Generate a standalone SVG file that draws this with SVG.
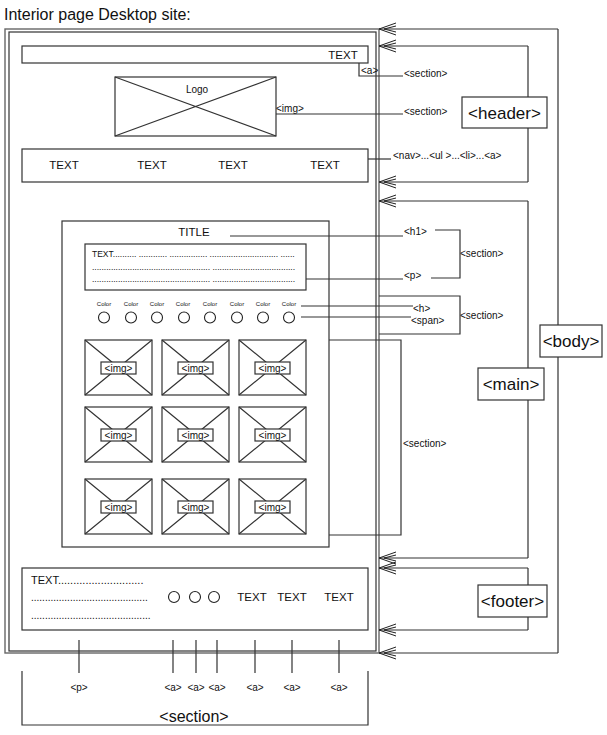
<svg xmlns="http://www.w3.org/2000/svg" width="607" height="735" viewBox="0 0 607 735">
  <defs>
    <style>
      text { font-family: "Liberation Sans", Arial, sans-serif; fill: #111; }
      .box { fill: #fff; stroke: #333; stroke-width: 1.2; }
      .ln { fill: none; stroke: #333; stroke-width: 1.2; }
      .frame { fill: none; stroke: #666; stroke-width: 1.4; }
      .lbl { font-size: 10px; }
      .sm { font-size: 6px; }
      .big { font-size: 17px; }
      .txt { font-size: 11.5px; }
      .circ { fill: none; stroke: #222; stroke-width: 1.1; }
    </style>
    <marker id="chev" markerWidth="20" markerHeight="14" refX="18" refY="7" orient="auto" markerUnits="userSpaceOnUse">
      <path d="M1,1 L18,7 L1,13 M1,4 L13,7 L1,10" fill="none" stroke="#222" stroke-width="1"/>
    </marker>
    <g id="ph">
      <rect x="0" y="0" width="67" height="55" class="box"/>
      <path d="M0,0 L67,55 M67,0 L0,55" class="ln"/>
      <rect x="16" y="22" width="35" height="12" class="box"/>
      <text x="33.5" y="31.5" text-anchor="middle" class="lbl">&lt;img&gt;</text>
    </g>
  </defs>
  <rect width="607" height="735" fill="#fff"/>

  <text x="4" y="20" font-size="16">Interior page Desktop site:</text>

  <!-- page frame -->
  <g id="page">
    <rect x="5" y="29" width="374" height="624" class="frame"/>
    <rect x="9" y="32" width="367" height="619" class="ln"/>
  </g>

  <!-- header -->
  <g id="topbar">
    <rect x="22" y="46" width="346" height="17" class="box"/>
    <text x="343" y="59" text-anchor="middle" class="txt">TEXT</text>
  </g>
  <g id="logo">
    <rect x="115" y="77" width="161" height="59" class="box"/>
    <path d="M115,77 L276,136 M276,77 L115,136" class="ln"/>
    <text x="197" y="93" text-anchor="middle" class="lbl">Logo</text>
  </g>
  <g id="nav">
    <rect x="22" y="149" width="346" height="33" class="box"/>
    <text x="64" y="169" text-anchor="middle" class="txt">TEXT</text>
    <text x="152" y="169" text-anchor="middle" class="txt">TEXT</text>
    <text x="233" y="169" text-anchor="middle" class="txt">TEXT</text>
    <text x="325" y="169" text-anchor="middle" class="txt">TEXT</text>
  </g>

  <!-- main content section -->
  <g id="content">
    <rect x="62" y="221" width="267" height="326" class="box"/>
    <text x="194" y="236" text-anchor="middle" class="txt">TITLE</text>
    <rect x="85" y="244" width="221" height="46" class="box"/>
    <text x="92" y="257" font-size="8.5">TEXT.......... ............ ................ ............................. ......</text>
    <text x="92" y="270" font-size="8.5">.................................................. ...................................</text>
    <text x="92" y="282" font-size="8.5">.................................................. ...................................</text>
    <g id="colors">
      <text x="104" y="306" text-anchor="middle" class="sm">Color</text>
      <text x="131" y="306" text-anchor="middle" class="sm">Color</text>
      <text x="157" y="306" text-anchor="middle" class="sm">Color</text>
      <text x="183" y="306" text-anchor="middle" class="sm">Color</text>
      <text x="210" y="306" text-anchor="middle" class="sm">Color</text>
      <text x="237" y="306" text-anchor="middle" class="sm">Color</text>
      <text x="263" y="306" text-anchor="middle" class="sm">Color</text>
      <text x="289" y="306" text-anchor="middle" class="sm">Color</text>
      <circle cx="104" cy="317.5" r="5.5" class="circ"/>
      <circle cx="131" cy="317.5" r="5.5" class="circ"/>
      <circle cx="157" cy="317.5" r="5.5" class="circ"/>
      <circle cx="184" cy="317.5" r="5.5" class="circ"/>
      <circle cx="210" cy="317.5" r="5.5" class="circ"/>
      <circle cx="237" cy="317.5" r="5.5" class="circ"/>
      <circle cx="263" cy="317.5" r="5.5" class="circ"/>
      <circle cx="289" cy="317.5" r="5.5" class="circ"/>
    </g>
    <g id="gallery">
      <use href="#ph" x="85" y="340"/>
      <use href="#ph" x="162" y="340"/>
      <use href="#ph" x="239" y="340"/>
      <use href="#ph" x="85" y="407"/>
      <use href="#ph" x="162" y="407"/>
      <use href="#ph" x="239" y="407"/>
      <use href="#ph" x="85" y="479"/>
      <use href="#ph" x="162" y="479"/>
      <use href="#ph" x="239" y="479"/>
    </g>
  </g>

  <!-- footer -->
  <g id="footer-box">
    <rect x="22" y="568" width="346" height="62" class="box"/>
    <text x="31" y="584" font-size="11">TEXT............................</text>
    <text x="31" y="601" font-size="10">..........................................</text>
    <text x="31" y="619" font-size="10">...........................................</text>
    <circle cx="174" cy="597" r="5.5" class="circ"/>
    <circle cx="195" cy="597" r="5.5" class="circ"/>
    <circle cx="214" cy="597" r="5.5" class="circ"/>
    <text x="252" y="601" text-anchor="middle" class="txt">TEXT</text>
    <text x="292" y="601" text-anchor="middle" class="txt">TEXT</text>
    <text x="339" y="601" text-anchor="middle" class="txt">TEXT</text>
  </g>

  <!-- element labels -->
  <g id="tag-labels">
    <text x="361" y="74" class="lbl">&lt;a&gt;</text>
    <text x="404" y="77" class="lbl">&lt;section&gt;</text>
    <text x="276" y="112" class="lbl">&lt;img&gt;</text>
    <text x="404" y="115" class="lbl">&lt;section&gt;</text>
    <text x="393" y="159" class="lbl">&lt;nav&gt;...&lt;ul &gt;...&lt;li&gt;...&lt;a&gt;</text>
    <text x="404" y="235" class="lbl">&lt;h1&gt;</text>
    <text x="404" y="279" class="lbl">&lt;p&gt;</text>
    <text x="460" y="257" class="lbl">&lt;section&gt;</text>
    <text x="413" y="312" class="lbl">&lt;h&gt;</text>
    <text x="411" y="324" class="lbl">&lt;span&gt;</text>
    <text x="460" y="319" class="lbl">&lt;section&gt;</text>
    <text x="403" y="447" class="lbl">&lt;section&gt;</text>
    <text x="79" y="691" text-anchor="middle" class="lbl">&lt;p&gt;</text>
    <text x="173" y="691" text-anchor="middle" class="lbl">&lt;a&gt;</text>
    <text x="196" y="691" text-anchor="middle" class="lbl">&lt;a&gt;</text>
    <text x="217" y="691" text-anchor="middle" class="lbl">&lt;a&gt;</text>
    <text x="255" y="691" text-anchor="middle" class="lbl">&lt;a&gt;</text>
    <text x="292" y="691" text-anchor="middle" class="lbl">&lt;a&gt;</text>
    <text x="339" y="691" text-anchor="middle" class="lbl">&lt;a&gt;</text>
    <text x="194" y="722" text-anchor="middle" font-size="16">&lt;section&gt;</text>
  </g>

  <!-- connectors -->
  <g id="connectors">
    <path d="M359,63 V76 H403" class="ln"/>
    <path d="M276,114 H403" class="ln"/>
    <path d="M368,159 H391" class="ln"/>
    <path d="M230,236 H403" class="ln"/>
    <path d="M306,279 H403" class="ln"/>
    <path d="M435,230 H460 V278 H431" class="ln"/>
    <path d="M301,306 H413" class="ln"/>
    <path d="M301,317 H411" class="ln"/>
    <path d="M379,296 H460 V334 H379" class="ln"/>
    <path d="M329,340 H401 V535 H329" class="ln"/>
    <path d="M79,640 V673 M173,640 V673 M196,640 V673 M217,640 V673 M255,640 V673 M292,640 V673 M339,640 V673" class="ln"/>
    <path d="M22,671 V725 H368 V671" class="ln"/>
    <!-- body -->
    <path d="M558,29 H379" class="ln" marker-end="url(#chev)"/>
    <path d="M558,653 H379" class="ln" marker-end="url(#chev)"/>
    <path d="M558,29 V325 M558,357 V653" class="ln"/>
    <!-- header -->
    <path d="M528,46 H379" class="ln" marker-end="url(#chev)"/>
    <path d="M528,182 H379" class="ln" marker-end="url(#chev)"/>
    <path d="M528,46 V97 M528,128 V182" class="ln"/>
    <!-- main -->
    <path d="M528,201 H379" class="ln" marker-end="url(#chev)"/>
    <path d="M528,558 H379" class="ln" marker-end="url(#chev)"/>
    <path d="M528,201 V368 M528,400 V558" class="ln"/>
    <!-- footer -->
    <path d="M528,568 H379" class="ln" marker-end="url(#chev)"/>
    <path d="M528,630 H379" class="ln" marker-end="url(#chev)"/>
    <path d="M528,568 V585 M528,617 V630" class="ln"/>
  </g>

  <g id="header">
    <rect x="462" y="97" width="85" height="31" class="box"/>
    <text x="504.5" y="119" text-anchor="middle" class="big">&lt;header&gt;</text>
  </g>
  <g id="body">
    <rect x="540" y="325" width="62" height="32" class="box"/>
    <text x="571" y="347" text-anchor="middle" class="big">&lt;body&gt;</text>
  </g>
  <g id="main">
    <rect x="478" y="368" width="66" height="32" class="box"/>
    <text x="511" y="390" text-anchor="middle" class="big">&lt;main&gt;</text>
  </g>
  <g id="footer">
    <rect x="478" y="585" width="69" height="32" class="box"/>
    <text x="512.5" y="607" text-anchor="middle" class="big">&lt;footer&gt;</text>
  </g>
</svg>
